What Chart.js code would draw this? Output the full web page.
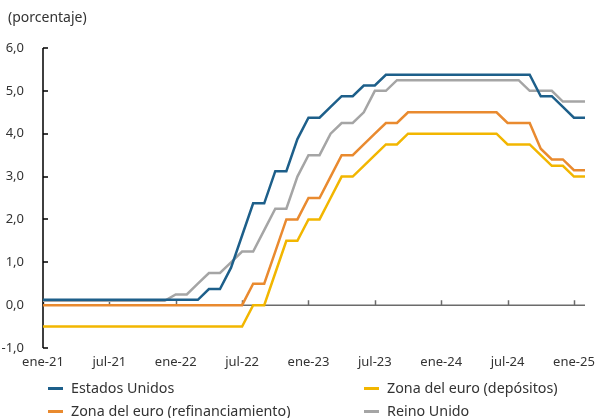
<!DOCTYPE html>
<html>
<head>
<meta charset="utf-8">
<script src="https://cdn.jsdelivr.net/npm/chart.js@4"></script>
<style>
  body { margin: 0; background: #fff; }
  #wrap { position: relative; width: 599px; height: 418px; font-family: "Noto Sans", sans-serif; color: #333; }
  #unit { position: absolute; left: 8px; top: 7px; font-size: 14px; }
  .leg { position: absolute; font-size: 14.3px; line-height: 16px; white-space: nowrap; }
  .leg span { display: inline-block; width: 15px; height: 3px; vertical-align: middle; margin-right: 8px; position: relative; top: -1px; }
</style>
</head>
<body>
<div id="wrap">
  <canvas id="myChart" width="599" height="418"></canvas>
  <div id="unit">(porcentaje)</div>
  <div id="legend"></div>
</div>
<script>
const months = [
  'ene-21','feb-21','mar-21','abr-21','may-21','jun-21','jul-21','ago-21','sep-21','oct-21','nov-21','dic-21',
  'ene-22','feb-22','mar-22','abr-22','may-22','jun-22','jul-22','ago-22','sep-22','oct-22','nov-22','dic-22',
  'ene-23','feb-23','mar-23','abr-23','may-23','jun-23','jul-23','ago-23','sep-23','oct-23','nov-23','dic-23',
  'ene-24','feb-24','mar-24','abr-24','may-24','jun-24','jul-24','ago-24','sep-24','oct-24','nov-24','dic-24',
  'ene-25','feb-25'
];
const tickLabels = ['ene-21','jul-21','ene-22','jul-22','ene-23','jul-23','ene-24','jul-24','ene-25'];

const usa = [
  0.125,0.125,0.125,0.125,0.125,0.125,0.125,0.125,0.125,0.125,0.125,0.125,
  0.125,0.125,0.125,0.375,0.375,0.875,1.625,2.375,2.375,3.125,3.125,3.875,
  4.375,4.375,4.625,4.875,4.875,5.125,5.125,5.375,5.375,5.375,5.375,5.375,
  5.375,5.375,5.375,5.375,5.375,5.375,5.375,5.375,5.375,4.875,4.875,4.625,
  4.375,4.375
];
const euroDep = [
  -0.5,-0.5,-0.5,-0.5,-0.5,-0.5,-0.5,-0.5,-0.5,-0.5,-0.5,-0.5,
  -0.5,-0.5,-0.5,-0.5,-0.5,-0.5,-0.5,0,0,0.75,1.5,1.5,
  2.0,2.0,2.5,3.0,3.0,3.25,3.5,3.75,3.75,4.0,4.0,4.0,
  4.0,4.0,4.0,4.0,4.0,4.0,3.75,3.75,3.75,3.5,3.25,3.25,
  3.0,3.0
];
const euroRefi = [
  0,0,0,0,0,0,0,0,0,0,0,0,
  0,0,0,0,0,0,0,0.5,0.5,1.25,2.0,2.0,
  2.5,2.5,3.0,3.5,3.5,3.75,4.0,4.25,4.25,4.5,4.5,4.5,
  4.5,4.5,4.5,4.5,4.5,4.5,4.25,4.25,4.25,3.65,3.4,3.4,
  3.15,3.15
];
const uk = [
  0.1,0.1,0.1,0.1,0.1,0.1,0.1,0.1,0.1,0.1,0.1,0.1,
  0.25,0.25,0.5,0.75,0.75,1.0,1.25,1.25,1.75,2.25,2.25,3.0,
  3.5,3.5,4.0,4.25,4.25,4.5,5.0,5.0,5.25,5.25,5.25,5.25,
  5.25,5.25,5.25,5.25,5.25,5.25,5.25,5.25,5.0,5.0,5.0,4.75,
  4.75,4.75
];

const series = [
  { label: 'Estados Unidos', data: usa, color: '#1d5f8a', left: 48, top: 380 },
  { label: 'Zona del euro (depósitos)', data: euroDep, color: '#f2b600', left: 364, top: 380 },
  { label: 'Zona del euro (refinanciamiento)', data: euroRefi, color: '#e98a2f', left: 48, top: 403 },
  { label: 'Reino Unido', data: uk, color: '#a5a5a5', left: 364, top: 403 }
];

// legend in html, two columns
const legend = document.getElementById('legend');
series.forEach(s => {
  const d = document.createElement('div');
  d.className = 'leg';
  d.style.left = s.left + 'px';
  d.style.top = s.top + 'px';
  d.innerHTML = '<span style="background:' + s.color + '"></span>' + s.label;
  legend.appendChild(d);
});

// axis lines and inner ticks
const axisPlugin = {
  id: 'axisLines',
  beforeDatasetsDraw(chart) {
    const ctx = chart.ctx;
    const x = chart.scales.x, y = chart.scales.y;
    const area = chart.chartArea;
    ctx.save();
    // zero line
    const y0 = y.getPixelForValue(0);
    ctx.strokeStyle = '#6b6b6b';
    ctx.lineWidth = 1.5;
    ctx.beginPath();
    ctx.moveTo(area.left, y0);
    ctx.lineTo(area.right, y0);
    months.forEach((m, i) => {
      if (tickLabels.includes(m)) {
        const px = Math.round(x.getPixelForValue(i)) + 0.5;
        ctx.moveTo(px, y0);
        ctx.lineTo(px, y0 - 5);
      }
    });
    ctx.stroke();
    // y axis
    ctx.strokeStyle = '#000';
    ctx.lineWidth = 1.5;
    ctx.beginPath();
    ctx.moveTo(area.left, area.top);
    ctx.lineTo(area.left, area.bottom);
    y.ticks.forEach(t => {
      const py = Math.round(y.getPixelForValue(t.value));
      ctx.moveTo(area.left, py);
      ctx.lineTo(area.left + 5, py);
    });
    ctx.stroke();
    ctx.restore();
  }
};

const ctx = document.getElementById('myChart').getContext('2d');
const myChart = new Chart(ctx, {
  type: 'line',
  data: {
    labels: months,
    datasets: series.map(s => ({
      label: s.label,
      data: s.data,
      borderColor: s.color,
      backgroundColor: s.color,
      borderWidth: 2.5,
      pointRadius: 0,
      tension: 0,
      fill: false
    }))
  },
  options: {
    responsive: false,
    animation: false,
    layout: { padding: { top: 48, right: 14, bottom: 40, left: 0 } },
    plugins: { legend: { display: false }, tooltip: { enabled: false } },
    scales: {
      x: {
        offset: false,
        grid: { display: false },
        border: { display: false },
        afterFit(scale) { scale.height = 30; },
        ticks: {
          autoSkip: false,
          maxRotation: 0,
          padding: -2,
          color: '#333',
          font: { family: 'Noto Sans', size: 13 },
          callback(v, i) { return tickLabels.includes(months[i]) ? months[i] : null; }
        }
      },
      y: {
        min: -1,
        max: 6,
        grid: { display: false },
        border: { display: false },
        afterFit(scale) { scale.width = 43; },
        ticks: {
          stepSize: 1,
          padding: 11,
          color: '#333',
          font: { family: 'Noto Sans', size: 13 },
          callback(v) { return v.toFixed(1).replace('.', ','); }
        }
      }
    }
  },
  plugins: [axisPlugin]
});
</script>
</body>
</html>
